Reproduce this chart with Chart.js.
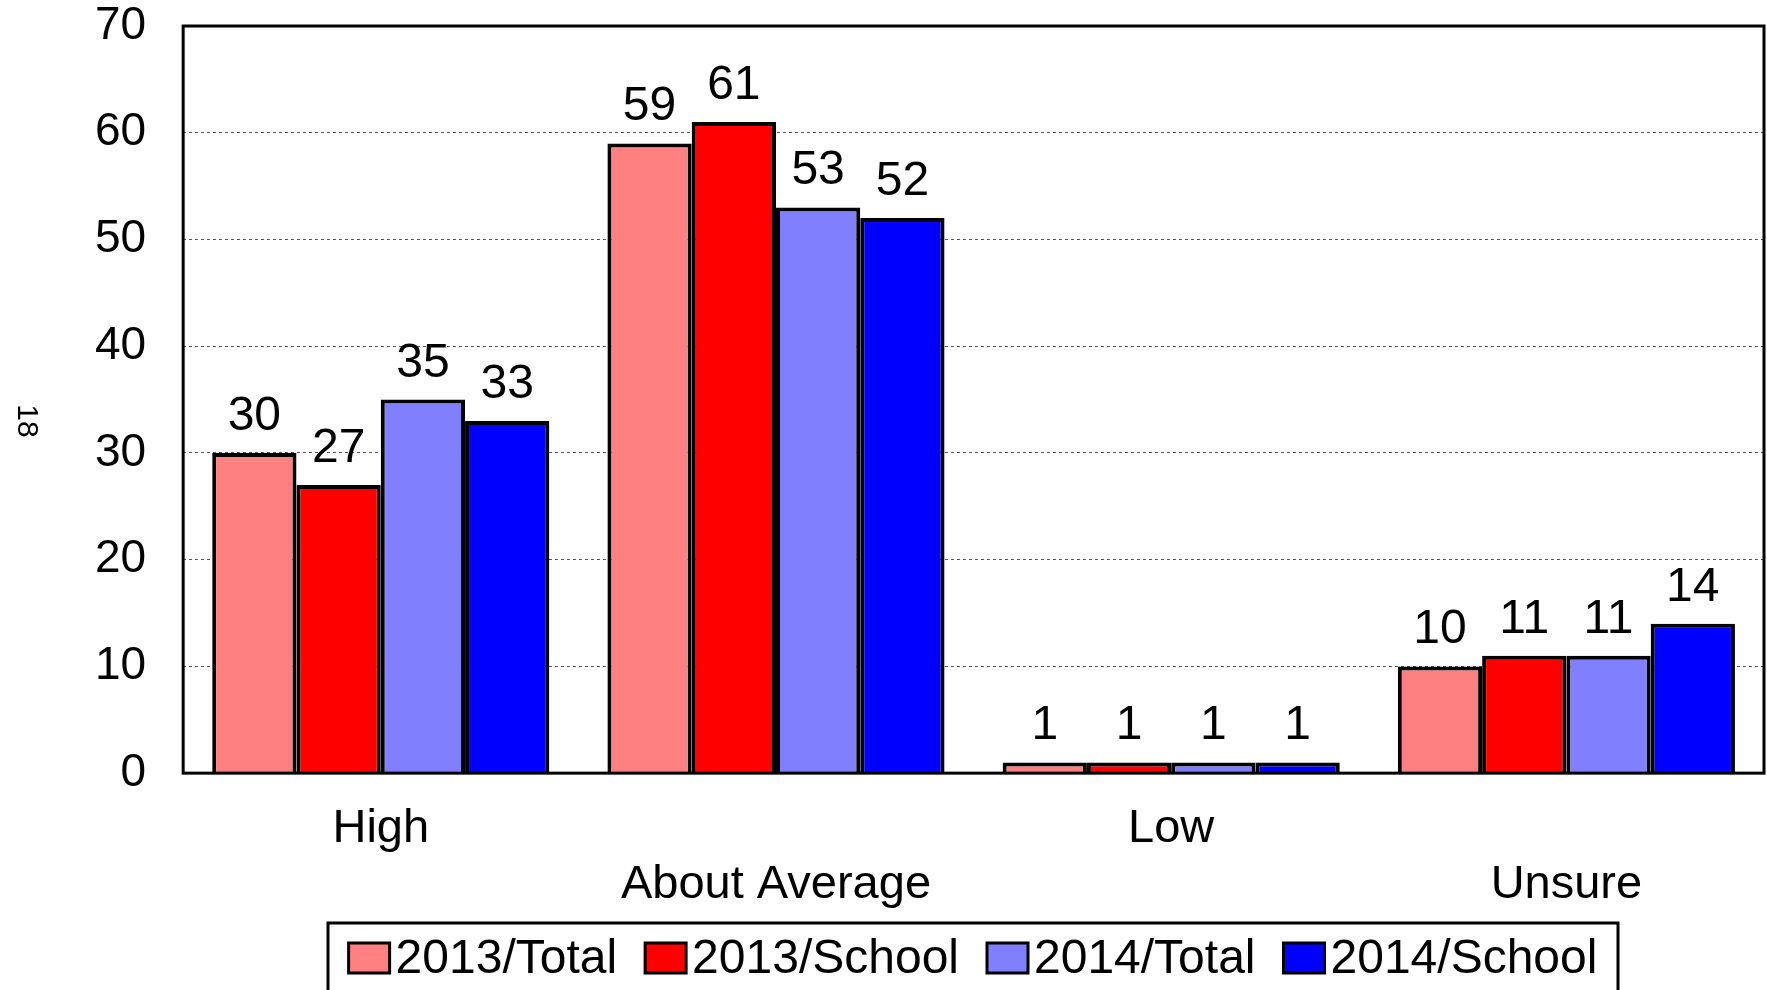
<!doctype html>
<html lang="en">
  <head>
    <meta charset="utf-8">
    <title>Rating chart</title>
    <style>
      * { margin: 0; padding: 0; }
      body { background: #fff; overflow: hidden; }
      .chartBox { width: 1767px; height: 990px; }
    </style>
  </head>
  <body>
    <div class="chartBox">
      <canvas id="myChart"></canvas>
    </div>
    <script src="https://cdn.jsdelivr.net/npm/chart.js"></script>
    <script>
    // data
    const categories = [['High', ''], ['', 'About Average'], ['Low', ''], ['', 'Unsure']];
    const seriesNames = ['2013/Total', '2013/School', '2014/Total', '2014/School'];
    const total2013 = [30, 59, 1, 10];
    const school2013 = [27, 61, 1, 11];
    const total2014 = [35, 53, 1, 11];
    const school2014 = [33, 52, 1, 14];
    const yTicks = [0, 10, 20, 30, 40, 50, 60, 70];
    const pageNumber = '18';

    const colors = ['#FF8080', '#FF0000', '#8080FF', '#0000FF'];
    const FONT = "'Liberation Sans', Arial, sans-serif";

    const data = {
      labels: categories,
      datasets: [total2013, school2013, total2014, school2014].map((vals, i) => ({
        label: seriesNames[i],
        data: vals,
        backgroundColor: colors[i],
        borderColor: '#000',
        borderWidth: 4,
        categoryPercentage: 0.853,
        barPercentage: 1.0
      }))
    };

    // value labels above bars
    const valueLabels = {
      id: 'valueLabels',
      afterDatasetsDraw(chart) {
        const ctx = chart.ctx;
        ctx.save();
        ctx.font = '48px ' + FONT;
        ctx.fillStyle = '#000';
        ctx.textAlign = 'center';
        ctx.textBaseline = 'alphabetic';
        chart.data.datasets.forEach((ds, i) => {
          chart.getDatasetMeta(i).data.forEach((bar, j) => {
            ctx.fillText(String(ds.data[j]), bar.x, bar.y - 23);
          });
        });
        ctx.restore();
      }
    };

    // plot frame, legend box and page number
    const extras = {
      id: 'extras',
      afterDraw(chart) {
        const ctx = chart.ctx;
        const a = chart.chartArea;
        ctx.save();
        ctx.strokeStyle = '#000';
        ctx.lineWidth = 3;
        ctx.strokeRect(a.left, a.top, a.right - a.left, a.bottom - a.top);

        // legend
        ctx.font = '48px ' + FONT;
        const boxW = 41, boxH = 30, textGap = 6, itemGap = 28;
        const widths = seriesNames.map(n => ctx.measureText(n).width);
        const total = widths.reduce((s, w) => s + w, 0) + seriesNames.length * (boxW + textGap) + (seriesNames.length - 1) * itemGap;
        const lgLeft = 328, lgRight = 1618, lgTop = 923;
        ctx.strokeRect(lgLeft, lgTop, lgRight - lgLeft, 100);
        let x = (lgLeft + lgRight) / 2 - total / 2;
        const cy = 958;
        seriesNames.forEach((n, i) => {
          ctx.fillStyle = colors[i];
          ctx.fillRect(x, cy - boxH / 2, boxW, boxH);
          ctx.lineWidth = 3;
          ctx.strokeRect(x, cy - boxH / 2, boxW, boxH);
          ctx.fillStyle = '#000';
          ctx.textAlign = 'left';
          ctx.textBaseline = 'middle';
          ctx.fillText(n, x + boxW + textGap, cy + 2);
          x += boxW + textGap + widths[i] + itemGap;
        });

        // rotated page number
        ctx.translate(26, 421);
        ctx.rotate(Math.PI / 2);
        ctx.font = '30px ' + FONT;
        ctx.textAlign = 'center';
        ctx.textBaseline = 'middle';
        ctx.fillText(pageNumber, 0, 0);
        ctx.restore();
      }
    };

    const config = {
      type: 'bar',
      data,
      options: {
        responsive: true,
        maintainAspectRatio: false,
        animation: false,
        layout: { padding: { left: 58, top: 26, right: 3, bottom: 49 } },
        plugins: {
          legend: { display: false },
          tooltip: { enabled: false }
        },
        scales: {
          x: {
            grid: { display: false, drawTicks: false },
            border: { display: false },
            ticks: {
              color: '#000',
              padding: 28,
              maxRotation: 0,
              autoSkip: false,
              font: { family: FONT, size: 47, lineHeight: 1.19 }
            }
          },
          y: {
            min: 0,
            max: 70,
            afterBuildTicks(axis) {
              axis.ticks = yTicks.map(v => ({ value: v }));
            },
            afterFit(axis) {
              axis.paddingTop = 0;
              axis.paddingBottom = 0;
            },
            grid: {
              drawTicks: false,
              color: ctx => (ctx.tick && (ctx.tick.value === 0 || ctx.tick.value === 70)) ? 'rgba(0,0,0,0)' : '#555',
              lineWidth: 1
            },
            border: { display: false, dash: [3, 3] },
            ticks: {
              color: '#000',
              padding: 37,
              font: { family: FONT, size: 46, lineHeight: 1.0 }
            }
          }
        }
      },
      plugins: [valueLabels, extras]
    };

    const myChart = new Chart(document.getElementById('myChart'), config);
    </script>
  </body>
</html>
